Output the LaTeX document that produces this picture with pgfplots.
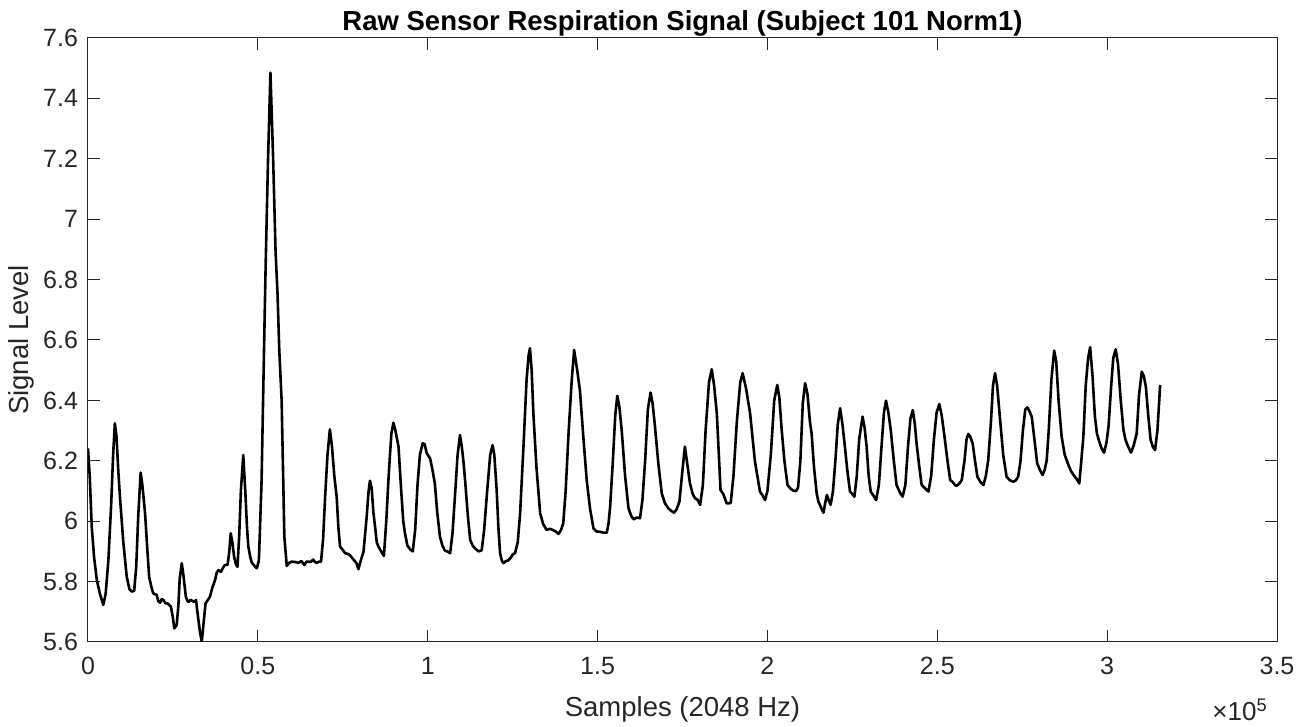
\documentclass[border=0pt]{standalone}
\usepackage{pgfplots}
\pgfplotsset{compat=1.18}
\usepackage{fontspec}
\setmainfont{Liberation Sans}
\definecolor{axgray}{RGB}{38,38,38}
\begin{document}
\begin{tikzpicture}
\path[use as bounding box] (-44pt,-42.5pt) rectangle (611.5pt,321pt);
\begin{axis}[
  at={(0pt,0pt)}, anchor=south west,
  scale only axis, width=594.5pt, height=302pt,
  xmin=0, xmax=3.5, ymin=5.6, ymax=7.6,
  xtick={0,0.5,1,1.5,2,2.5,3,3.5},
  xticklabels={0,0.5,1,1.5,2,2.5,3,3.5},
  ytick={5.6,5.8,6,6.2,6.4,6.6,6.8,7,7.2,7.4,7.6},
  yticklabels={5.6,5.8,6,6.2,6.4,6.6,6.8,7,7.2,7.4,7.6},
  tick align=inside, major tick length=6pt,
  axis line style={draw=axgray, line width=0.5pt},
  every tick/.style={axgray, line width=0.5pt},
  tick label style={font=\fontsize{12.5}{15}\selectfont, text=axgray},
  xticklabel style={yshift=-4pt},
  yticklabel style={xshift=-1.5pt},
  /pgf/number format/assume math mode=true,
  label style={font=\fontsize{13.75}{16}\selectfont, text=axgray},
  xlabel style={yshift=-4pt},
  ylabel style={yshift=-2.5pt},
  title style={font=\bfseries\fontsize{13.75}{16}\selectfont, at={(0.5,1)}, anchor=south, yshift=-8.5pt},
  title={Raw Sensor Respiration Signal (Subject 101 Norm1)},
  xlabel={Samples (2048 Hz)},
  ylabel={Signal Level},
]
\addplot[black, line width=1.3pt, line join=round] table {
x y
0 6.241
0.005 6.15
0.011 5.982
0.018 5.88
0.026 5.805
0.035 5.76
0.045 5.723
0.052 5.76
0.060 5.871
0.068 6.05
0.074 6.22
0.079 6.324
0.084 6.28
0.089 6.17
0.094 6.081
0.104 5.93
0.114 5.816
0.122 5.775
0.129 5.767
0.136 5.77
0.142 5.85
0.148 6.02
0.155 6.161
0.160 6.12
0.168 6.026
0.175 5.9
0.180 5.816
0.186 5.785
0.192 5.761
0.202 5.756
0.207 5.735
0.212 5.730
0.217 5.742
0.222 5.739
0.228 5.728
0.234 5.728
0.244 5.717
0.250 5.68
0.254 5.645
0.261 5.656
0.266 5.72
0.270 5.81
0.276 5.861
0.281 5.82
0.288 5.750
0.293 5.735
0.297 5.733
0.302 5.74
0.307 5.736
0.313 5.733
0.318 5.739
0.322 5.7
0.325 5.673
0.330 5.63
0.335 5.601
0.340 5.66
0.346 5.728
0.352 5.738
0.359 5.750
0.366 5.78
0.374 5.805
0.379 5.83
0.384 5.838
0.391 5.832
0.397 5.845
0.403 5.855
0.411 5.856
0.416 5.9
0.420 5.960
0.425 5.93
0.430 5.883
0.436 5.855
0.440 5.849
0.445 5.95
0.450 6.1
0.457 6.219
0.463 6.1
0.468 5.98
0.472 5.916
0.477 5.885
0.482 5.863
0.490 5.852
0.497 5.844
0.503 5.87
0.507 6.0
0.511 6.136
0.517 6.5
0.523 6.85
0.530 7.2
0.537 7.485
0.545 7.2
0.552 6.898
0.558 6.75
0.563 6.567
0.570 6.40
0.578 5.949
0.585 5.852
0.592 5.862
0.600 5.866
0.610 5.865
0.619 5.862
0.628 5.868
0.637 5.855
0.643 5.866
0.649 5.866
0.656 5.865
0.663 5.873
0.668 5.865
0.673 5.862
0.680 5.866
0.686 5.866
0.692 5.94
0.698 6.08
0.705 6.22
0.712 6.304
0.718 6.25
0.725 6.15
0.732 6.081
0.737 5.98
0.742 5.916
0.750 5.905
0.757 5.894
0.764 5.892
0.771 5.888
0.777 5.879
0.783 5.871
0.790 5.862
0.796 5.841
0.803 5.87
0.811 5.899
0.820 6.01
0.826 6.1
0.830 6.134
0.835 6.11
0.840 6.03
0.845 5.982
0.850 5.93
0.855 5.916
0.863 5.9
0.871 5.885
0.878 6.0
0.885 6.15
0.893 6.29
0.899 6.326
0.905 6.3
0.914 6.247
0.922 6.1
0.928 6.0
0.933 5.960
0.940 5.92
0.948 5.907
0.956 5.9
0.963 5.97
0.970 6.12
0.977 6.22
0.985 6.258
0.991 6.255
0.997 6.225
1.007 6.208
1.014 6.17
1.021 6.125
1.028 6.03
1.036 5.949
1.043 5.92
1.051 5.902
1.058 5.9
1.066 5.894
1.073 5.96
1.080 6.08
1.088 6.22
1.095 6.285
1.100 6.25
1.105 6.2
1.110 6.136
1.118 6.02
1.125 5.938
1.132 5.92
1.139 5.910
1.150 5.9
1.159 5.904
1.166 5.97
1.175 6.1
1.184 6.22
1.191 6.252
1.196 6.22
1.203 6.103
1.208 5.98
1.213 5.894
1.218 5.87
1.223 5.861
1.230 5.868
1.237 5.87
1.245 5.88
1.250 5.89
1.257 5.894
1.265 5.93
1.272 6.026
1.282 6.25
1.291 6.468
1.297 6.55
1.301 6.573
1.306 6.5
1.311 6.357
1.320 6.18
1.331 6.026
1.340 5.99
1.350 5.971
1.360 5.975
1.370 5.970
1.378 5.965
1.385 5.958
1.392 5.97
1.399 5.993
1.406 6.1
1.415 6.3
1.424 6.468
1.431 6.567
1.440 6.5
1.448 6.434
1.458 6.28
1.468 6.136
1.478 6.04
1.488 5.976
1.497 5.966
1.507 5.965
1.517 5.962
1.527 5.962
1.532 5.99
1.537 6.048
1.545 6.2
1.552 6.35
1.558 6.415
1.564 6.38
1.571 6.302
1.581 6.15
1.591 6.043
1.600 6.015
1.607 6.006
1.615 6.012
1.625 6.01
1.632 6.07
1.640 6.2
1.648 6.37
1.656 6.426
1.662 6.39
1.669 6.313
1.679 6.19
1.689 6.092
1.698 6.06
1.708 6.043
1.716 6.035
1.725 6.028
1.733 6.04
1.741 6.065
1.750 6.17
1.757 6.247
1.764 6.19
1.772 6.125
1.780 6.09
1.787 6.076
1.795 6.07
1.802 6.054
1.810 6.12
1.818 6.3
1.828 6.46
1.836 6.503
1.843 6.45
1.851 6.357
1.857 6.22
1.862 6.103
1.870 6.09
1.880 6.059
1.892 6.06
1.900 6.15
1.910 6.33
1.920 6.46
1.927 6.490
1.937 6.44
1.949 6.357
1.963 6.2
1.978 6.098
1.986 6.085
1.993 6.070
2.000 6.1
2.010 6.22
2.020 6.4
2.029 6.451
2.035 6.41
2.042 6.302
2.050 6.2
2.059 6.120
2.068 6.108
2.076 6.101
2.084 6.1
2.090 6.11
2.097 6.2
2.104 6.39
2.111 6.457
2.118 6.42
2.125 6.33
2.130 6.291
2.137 6.18
2.145 6.092
2.150 6.065
2.158 6.045
2.165 6.028
2.170 6.06
2.175 6.087
2.180 6.07
2.186 6.054
2.193 6.1
2.200 6.2
2.207 6.32
2.214 6.374
2.221 6.32
2.228 6.247
2.235 6.17
2.243 6.098
2.250 6.09
2.256 6.081
2.263 6.15
2.270 6.27
2.280 6.346
2.286 6.31
2.292 6.247
2.298 6.15
2.304 6.098
2.312 6.085
2.320 6.070
2.328 6.12
2.336 6.25
2.343 6.36
2.349 6.399
2.356 6.36
2.363 6.302
2.372 6.2
2.380 6.120
2.390 6.095
2.398 6.081
2.406 6.12
2.414 6.25
2.421 6.34
2.428 6.368
2.434 6.32
2.439 6.258
2.447 6.18
2.454 6.120
2.463 6.11
2.474 6.098
2.482 6.15
2.490 6.27
2.498 6.36
2.506 6.388
2.513 6.35
2.520 6.291
2.530 6.2
2.538 6.136
2.545 6.13
2.552 6.12
2.557 6.117
2.565 6.125
2.572 6.136
2.580 6.2
2.586 6.27
2.591 6.289
2.597 6.28
2.604 6.258
2.611 6.2
2.618 6.147
2.627 6.13
2.636 6.120
2.643 6.15
2.650 6.203
2.658 6.33
2.664 6.45
2.670 6.490
2.676 6.45
2.685 6.335
2.694 6.22
2.704 6.147
2.714 6.135
2.724 6.131
2.731 6.135
2.738 6.147
2.745 6.2
2.752 6.3
2.759 6.37
2.765 6.377
2.771 6.365
2.778 6.346
2.785 6.28
2.794 6.192
2.802 6.17
2.810 6.153
2.816 6.17
2.822 6.20
2.828 6.3
2.836 6.47
2.844 6.565
2.850 6.53
2.857 6.4
2.866 6.280
2.875 6.22
2.886 6.186
2.894 6.165
2.901 6.153
2.910 6.14
2.918 6.125
2.924 6.2
2.930 6.280
2.937 6.45
2.944 6.54
2.950 6.576
2.957 6.48
2.964 6.346
2.970 6.29
2.977 6.263
2.984 6.24
2.991 6.227
2.998 6.26
3.004 6.313
3.012 6.45
3.018 6.54
3.025 6.569
3.032 6.52
3.040 6.4
3.048 6.302
3.054 6.27
3.060 6.252
3.070 6.227
3.078 6.25
3.087 6.291
3.094 6.42
3.102 6.495
3.108 6.48
3.114 6.445
3.121 6.35
3.128 6.269
3.135 6.245
3.141 6.236
3.148 6.3
3.156 6.451
};
\end{axis}
\node[font=\fontsize{13}{15}\selectfont, text=axgray] at (576pt,-34pt) {×10\textsuperscript{5}};
\end{tikzpicture}
\end{document}
